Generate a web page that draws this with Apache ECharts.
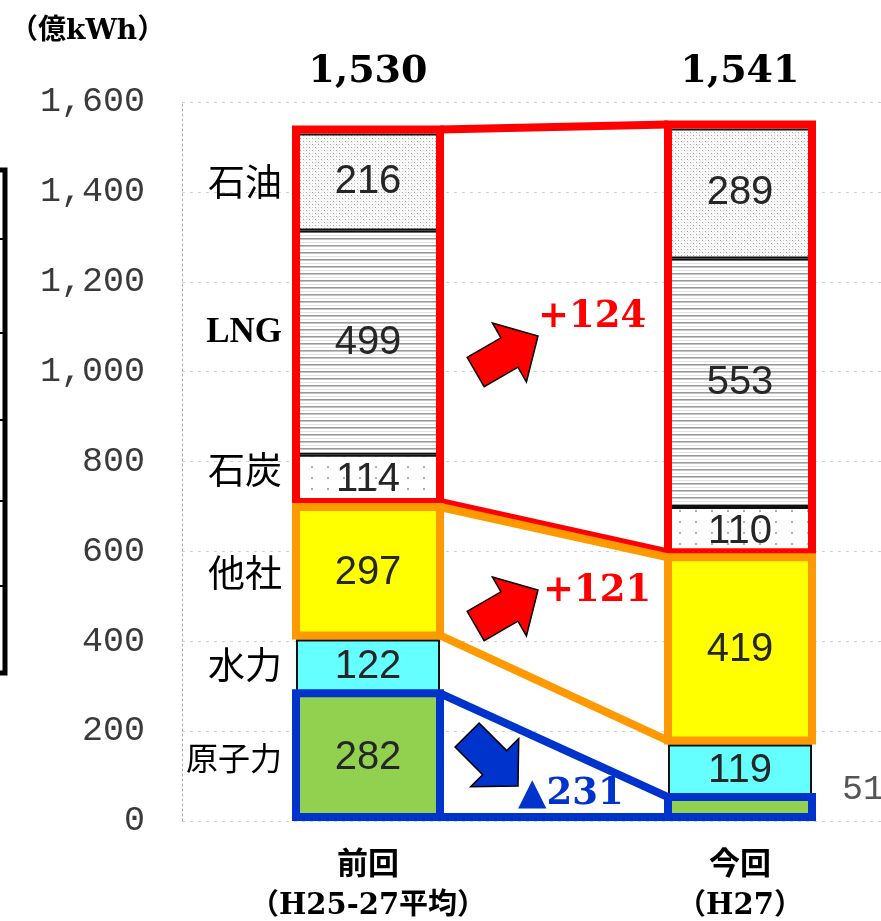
<!DOCTYPE html>
<html><head><meta charset="utf-8">
<script src="https://cdn.jsdelivr.net/npm/echarts@6/dist/echarts.min.js"></script>
<style>html,body{margin:0;padding:0;background:#fff}#c{width:881px;height:921px}</style>
</head><body><div id="c"></div>
<script>
// ---------- data ----------
const categories = ['前回', '今回'];
const categorySub = ['（H25-27平均）', '（H27）'];
const seriesNames = ['原子力', '水力', '他社', '石炭', 'LNG', '石油'];
const nuclear = [282, 51];
const hydro = [122, 119];
const others = [297, 419];
const coal = [114, 110];
const lng = [499, 553];
const oil = [216, 289];
const yTickLabels = ['0', '200', '400', '600', '800', '1,000', '1,200', '1,400', '1,600'];
const unitLabel = '（億kWh）';
const deltaTexts = ['+124', '+121', '▲231'];

// ---------- helpers ----------
const values = [nuclear, hydro, others, coal, lng, oil];
const totals = categories.map((_, i) => values.reduce((s, a) => s + a[i], 0));
function stackRange(fromIdx, toIdx, cat) {
  let lo = 0;
  for (let k = 0; k < fromIdx; k++) lo += values[k][cat];
  let hi = lo;
  for (let k = fromIdx; k <= toIdx; k++) hi += values[k][cat];
  return [lo, hi];
}
const BAR_W = 144;

function makePattern(w, h, draw) {
  const c = document.createElement('canvas');
  c.width = w; c.height = h;
  const g = c.getContext('2d');
  draw(g);
  return { image: c, repeat: 'repeat' };
}
const oilPat = makePattern(6, 6, g => {
  g.fillStyle = '#fbfbfb'; g.fillRect(0, 0, 6, 6);
  g.fillStyle = '#a0a0a0'; g.fillRect(0, 0, 1, 1); g.fillRect(3, 3, 1, 1);
  g.fillStyle = '#d0d0d0'; g.fillRect(3, 0, 1, 1); g.fillRect(0, 3, 1, 1);
  g.fillStyle = '#e6e6e6'; g.fillRect(1, 1, 1, 1); g.fillRect(4, 4, 1, 1);
});
const lngPat = makePattern(4, 7, g => {
  g.fillStyle = '#ffffff'; g.fillRect(0, 0, 4, 7);
  g.fillStyle = '#9a9a9a'; g.fillRect(0, 0, 4, 1);
  g.fillStyle = '#c4c4c4'; g.fillRect(0, 1, 4, 1);
  g.fillStyle = '#e2e2e2'; g.fillRect(0, 4, 4, 1);
});
const coalPat = makePattern(16, 11, g => {
  g.fillStyle = '#ffffff'; g.fillRect(0, 0, 16, 11);
  g.fillStyle = '#b0b0b0'; g.fillRect(7, 4, 2, 2);
});

const fills = ['#92D050', '#66FFFF', '#FFFF00', coalPat, lngPat, oilPat];
const valueFont = '"Liberation Sans", Arial, sans-serif';

const barSeries = seriesNames.map((name, si) => ({
  name: name,
  type: 'bar',
  stack: 'total',
  barWidth: BAR_W,
  z: 2,
  itemStyle: { color: fills[si], borderColor: '#111', borderWidth: 2 },
  label: {
    show: true, position: 'inside', color: '#262626',
    fontFamily: valueFont, fontSize: 40
  },
  data: values[si].map(v => v < 80 ? {
    value: v,
    label: { position: 'right', distance: 30, offset: [0, -20], color: '#555',
             fontFamily: '"Liberation Mono", monospace', fontSize: 35 }
  } : v)
}));

// outline groups: [fromIdx, toIdx, color, top offset]
const outlineGroups = [[3, 5, '#FF0000', -4], [2, 2, '#FF9900', 1], [0, 0, '#0033CC', -1]];
function renderOutline(params, api) {
  const grp = outlineGroups[params.dataIndex];
  const r0 = stackRange(grp[0], grp[1], 0), r1 = stackRange(grp[0], grp[1], 1);
  const c0 = api.coord([0, 0])[0], c1 = api.coord([1, 0])[0];
  const y = v => api.coord([0, v])[1];
  const hw = BAR_W / 2;
  const to = grp[3];
  const t0 = y(r0[1]) + to, b0 = y(r0[0]) - 4, t1 = y(r1[1]) + to, b1 = y(r1[0]) - 4;
  const x0L = c0 - hw, x0R = c0 + hw, x1L = c1 - hw, x1R = c1 + hw;
  const st = { stroke: grp[2], lineWidth: 8, fill: null, lineJoin: 'miter' };
  return {
    type: 'group',
    children: [
      { type: 'polygon', shape: { points: [[x0L, t0], [x0R, t0], [x0R, b0], [x0L, b0]] }, style: st },
      { type: 'polygon', shape: { points: [[x1L, t1], [x1R, t1], [x1R, b1], [x1L, b1]] }, style: st },
      { type: 'polyline', shape: { points: [[x0R, t0], [x1L, t1]] }, style: st },
      { type: 'polyline', shape: { points: [[x0R, b0], [x1L, b1]] }, style: st }
    ]
  };
}

const nameNudge = [0, -2, 0, -10, -10, 0];
function renderName(params, api) {
  const i = params.dataIndex;
  const r = stackRange(i, i, 0);
  const c0 = api.coord([0, 0])[0];
  const yc = (api.coord([0, r[0]])[1] + api.coord([0, r[1]])[1]) / 2 + nameNudge[i];
  const isLng = seriesNames[i] === 'LNG';
  return {
    type: 'text',
    style: {
      text: seriesNames[i], x: c0 - BAR_W / 2 - 14, y: yc,
      align: 'right', verticalAlign: 'middle', fill: '#000',
      fontFamily: isLng ? '"Liberation Serif", serif' : '"Noto Sans CJK JP", sans-serif',
      fontWeight: isLng ? 'bold' : 'normal',
      fontSize: isLng ? 35 : (seriesNames[i].length > 2 ? 32 : 37)
    }
  };
}

function renderTotal(params, api) {
  const i = params.dataIndex;
  const x = api.coord([i, 0])[0];
  const y = api.coord([i, 1600])[1] - 30;
  return {
    type: 'text',
    style: {
      text: totals[i].toLocaleString('en-US'), x: x, y: y,
      align: 'center', verticalAlign: 'middle', fill: '#000',
      fontFamily: '"DejaVu Serif", serif', fontWeight: 'bold', fontSize: 38
    }
  };
}

// block arrow shape
function arrow(tx, ty, angDeg, color) {
  const L = 72, sw = 17, hw = 34, hl = 33;
  const pts = [[-L, -sw], [-hl, -sw], [-hl, -hw], [0, 0], [-hl, hw], [-hl, sw], [-L, sw]];
  const a = angDeg * Math.PI / 180, ca = Math.cos(a), sa = Math.sin(a);
  return {
    type: 'polygon', z: 20,
    shape: { points: pts.map(p => [tx + p[0] * ca - p[1] * sa, ty + p[0] * sa + p[1] * ca]) },
    style: { fill: color, stroke: '#000', lineWidth: 1.5 }
  };
}
function deltaText(str, x, y, color) {
  return {
    type: 'text', z: 20, x: x, y: y,
    style: { text: str, fill: color, fontFamily: '"DejaVu Serif", serif', fontWeight: 'bold',
             fontSize: 37, align: 'left', verticalAlign: 'middle' }
  };
}

// remnant of neighbouring chart at left edge
const remnant = [
  { type: 'rect', z: 1, shape: { x: -10, y: 170, width: 15, height: 503 },
    style: { fill: null, stroke: '#000', lineWidth: 5 } }
].concat([239, 333, 420, 501, 586].map(yy => ({
  type: 'line', z: 1, shape: { x1: 0, y1: yy, x2: 5, y2: yy }, style: { stroke: '#000', lineWidth: 2 }
}))).concat([{
  type: 'text', z: 1, x: -22, y: 755,
  style: { text: '）', fill: '#000', fontFamily: '"Noto Sans CJK JP", sans-serif', fontSize: 30,
           align: 'left', verticalAlign: 'middle' }
}]);

const chart = echarts.init(document.getElementById('c'), null, { renderer: 'canvas' });
chart.setOption({
  animation: false,
  backgroundColor: '#fff',
  grid: { left: 182, top: 102, bottom: 100, width: 744, outerBoundsMode: 'none', containLabel: false },
  xAxis: {
    type: 'category', data: categories,
    axisLine: { show: false }, axisTick: { show: false },
    axisLabel: {
      margin: 19, interval: 0,
      formatter: (v, i) => '{a|' + v + '}\n{b|' + categorySub[i] + '}',
      rich: {
        a: { fontFamily: '"Noto Sans CJK JP", sans-serif', fontWeight: 'bold', fontSize: 31, lineHeight: 44, color: '#000' },
        b: { fontFamily: '"DejaVu Serif", "Noto Sans CJK JP", serif', fontWeight: 'bold', fontSize: 29, lineHeight: 44, color: '#000' }
      }
    }
  },
  yAxis: {
    type: 'value', min: 0, max: 1600, interval: 200,
    axisLine: { show: true, lineStyle: { color: '#aaa', type: [2, 3], width: 1 } },
    axisTick: { show: false },
    splitLine: { show: true, lineStyle: { color: '#d0d0d0', type: [3, 5], width: 1 } },
    axisLabel: {
      margin: 37, color: '#3a3a3a', fontFamily: '"Liberation Mono", monospace', fontSize: 35,
      formatter: (v, i) => yTickLabels[i]
    }
  },
  graphic: [
    { type: 'text', x: 10, y: 32, style: { text: unitLabel, fill: '#000',
      fontFamily: '"DejaVu Serif", "Noto Sans CJK JP", serif', fontWeight: 'bold', fontSize: 28,
      align: 'left', verticalAlign: 'middle' } },
    arrow(538, 336, -30, '#FF0000'),
    arrow(538, 590, -30, '#FF0000'),
    arrow(518, 786, 45, '#0033CC'),
    deltaText(deltaTexts[0], 538, 317, '#FF0000'),
    deltaText(deltaTexts[1], 543, 591, '#FF0000'),
    deltaText(deltaTexts[2], 518, 794, '#0033CC')
  ].concat(remnant),
  series: barSeries.concat([
    { type: 'custom', name: 'outline', z: 10, clip: false, renderItem: renderOutline,
      encode: { x: 0, y: 1 }, data: outlineGroups.map(() => [0, 0]), silent: true },
    { type: 'custom', name: 'names', z: 10, clip: false, renderItem: renderName,
      encode: { x: 0, y: 1 }, data: seriesNames.map(() => [0, 0]), silent: true },
    { type: 'custom', name: 'totals', z: 10, clip: false, renderItem: renderTotal,
      encode: { x: 0, y: 1 }, data: totals.map((t, i) => [i, t]), silent: true }
  ])
});
</script></body></html>
